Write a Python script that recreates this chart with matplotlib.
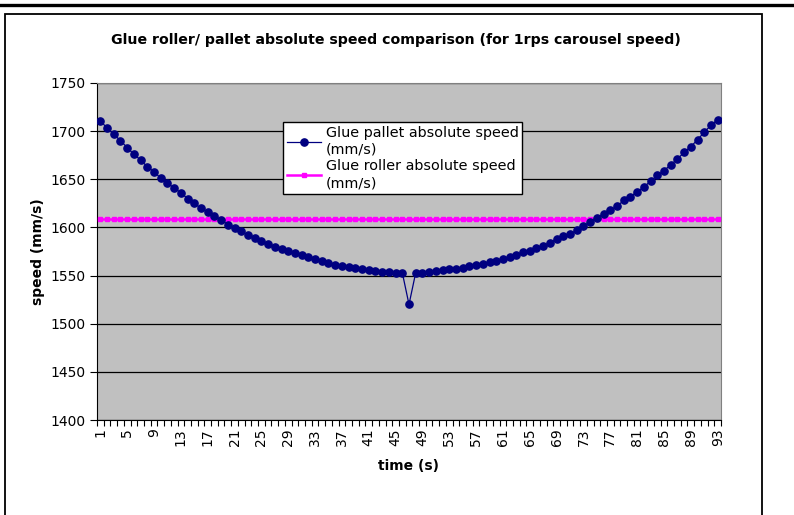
import numpy as np
import matplotlib.pyplot as plt
from matplotlib.patches import Rectangle
from matplotlib.lines import Line2D

# time steps (s)
time_s = list(range(1, 94))

# glue pallet absolute speed (mm/s)
pallet_speed = [
    1711, 1703, 1697, 1690, 1683, 1676, 1670, 1663, 1658, 1651,
    1646, 1641, 1636, 1630, 1625, 1620, 1616, 1612, 1608, 1603,
    1599, 1596, 1592, 1589, 1586, 1583, 1580, 1578, 1576, 1573,
    1571, 1569, 1567, 1565, 1563, 1561, 1560, 1559, 1558, 1557,
    1556, 1555, 1554, 1554, 1553, 1553, 1520, 1553, 1553, 1554,
    1555, 1556, 1557, 1557, 1558, 1560, 1561, 1562, 1564, 1565,
    1567, 1569, 1571, 1574, 1576, 1579, 1581, 1584, 1588, 1591,
    1593, 1597, 1601, 1606, 1610, 1614, 1618, 1622, 1628, 1632,
    1637, 1642, 1648, 1654, 1659, 1665, 1671, 1678, 1684, 1691,
    1699, 1706, 1712,
]

# glue roller absolute speed (mm/s), constant
roller_speed = [1608.5] * len(time_s)

y_ticks = [1400, 1450, 1500, 1550, 1600, 1650, 1700, 1750]
x_labels = list(range(1, 94, 4))

W, H = 794, 515
fig = plt.figure(figsize=(W / 100, H / 100), dpi=100)
fig.patch.set_facecolor("white")

# outer chart frame and top rule
fig.patches.append(Rectangle((5 / W, -0.02), 757 / W, (515 - 14) / H + 0.02,
                             transform=fig.transFigure, fill=False,
                             ec="black", lw=1.3))
fig.lines.append(Line2D([0, 1], [1 - 4.5 / H, 1 - 4.5 / H],
                        transform=fig.transFigure, color="black", lw=2.4))

ax = fig.add_axes([97 / W, (515 - 420) / H, 624 / W, 337 / H])
ax.set_facecolor("#C0C0C0")

ax.plot(time_s, roller_speed, color="#FF00FF", lw=1.8, marker="s", ms=3,
        label="Glue roller absolute speed\n(mm/s)", zorder=3)
ax.plot(time_s, pallet_speed, color="#000080", lw=0.9, marker="o", ms=5.2,
        label="Glue pallet absolute speed\n(mm/s)", zorder=4)

ax.set_xlim(0.5, 93.5)
ax.set_ylim(1400, 1750)
ax.set_yticks(y_ticks)
ax.yaxis.grid(True, color="black", lw=0.9)
ax.set_axisbelow(True)

ax.set_xticks(x_labels)
ax.set_xticklabels([str(v) for v in x_labels], rotation=90, fontsize=10)
ax.set_xticks(np.arange(0.5, 94, 1), minor=True)
ax.tick_params(axis="x", which="major", length=0, pad=6)
ax.tick_params(axis="x", which="minor", length=4, width=0.8, direction="out")
ax.tick_params(axis="y", length=5, width=0.8, labelsize=10, pad=3)

for side in ("top", "right"):
    ax.spines[side].set_color("#808080")
for side in ("left", "bottom"):
    ax.spines[side].set_color("black")

ax.set_ylabel("speed (mm/s)", fontsize=10, fontweight="bold", labelpad=4)
ax.set_xlabel("time (s)", fontsize=10, fontweight="bold", labelpad=9)

fig.text(396 / W, 1 - 40 / H,
         "Glue roller/ pallet absolute speed comparison (for 1rps carousel speed)",
         ha="center", va="center", fontsize=10.2, fontweight="bold")

handles, labels = ax.get_legend_handles_labels()
leg = ax.legend(handles[::-1], labels[::-1], loc="upper left",
                bbox_to_anchor=(283 / W, 1 - 122 / H),
                bbox_transform=fig.transFigure, borderaxespad=0,
                fancybox=False, framealpha=1, edgecolor="black",
                fontsize=10.4, handlelength=2.4, handletextpad=0.3,
                labelspacing=0.15, borderpad=0.25)
leg.get_frame().set_linewidth(1.0)
for t in leg.get_texts():
    t.set_linespacing(1.3)

fig.savefig("out.png", dpi=100)
